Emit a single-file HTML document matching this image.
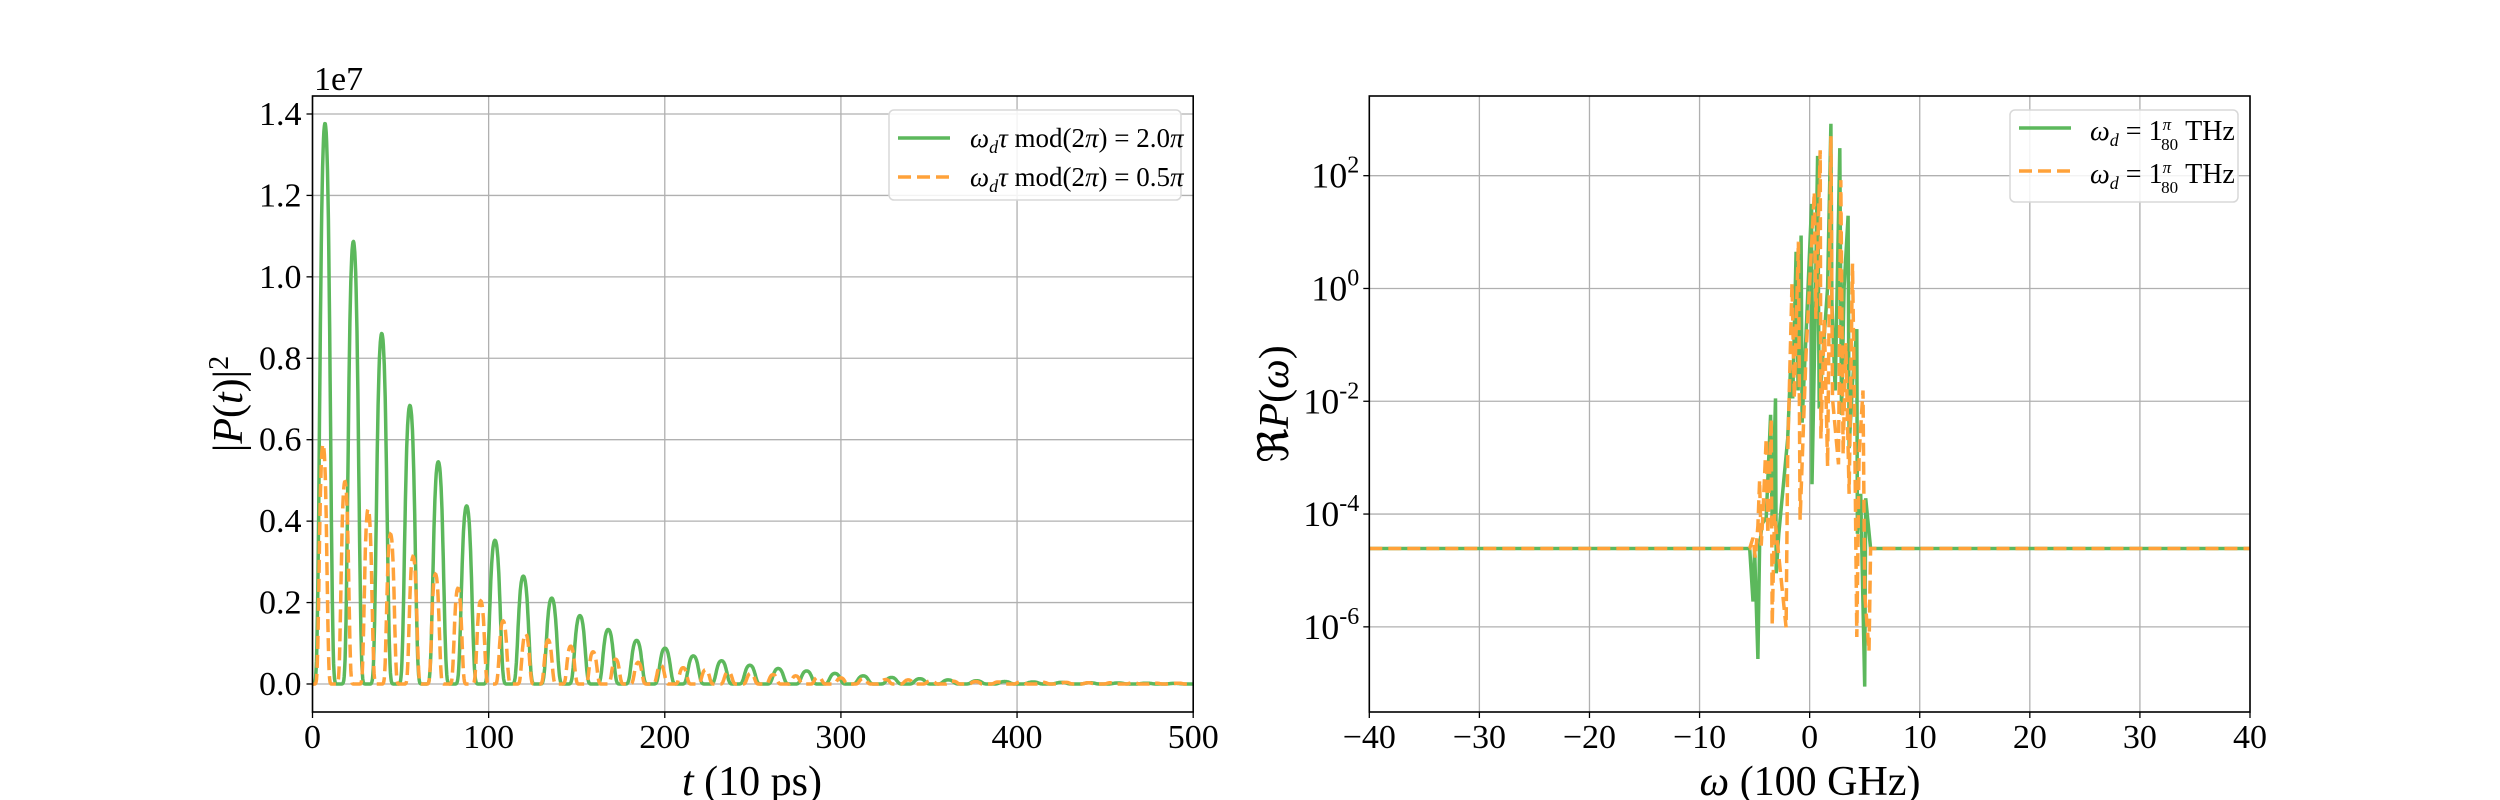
<!DOCTYPE html>
<html><head><meta charset="utf-8"><style>
html,body{margin:0;padding:0;background:#fff;}
svg{display:block;font-family:"Liberation Serif","DejaVu Serif",serif;}
</style></head><body>
<svg id="fig" width="2500" height="800" viewBox="0 0 2500 800" xmlns="http://www.w3.org/2000/svg">
<rect width="2500" height="800" fill="#fff"/>
<g id="left"></g>
<g id="right"></g>
</svg>
<script>
// ---- Left chart data ----
const greenPeakT = [7.1,23.2,39.3,55.3,71.4,87.5,103.6,119.7,135.8,151.8,167.9,184,200.1,216.2,232.2,248.3,264.4,280.5,296.6,312.6,328.7,344.8,360.9,377,393,409.1,425.2,441.3,457.4,473.4,489.5];
const greenPeakH = [1.377,1.087,0.861,0.684,0.546,0.4375,0.353,0.265,0.211,0.168,0.134,0.107,0.088,0.069,0.057,0.046,0.038,0.032,0.026,0.020,0.016,0.013,0.010,0.008,0.006,0.005,0.004,0.003,0.0025,0.002,0.0015];
const orangePeakT = [6.0,18.4,31.6,44.3,57.1,69.8,82.6,95.5,108.2,121,133.8,146.6,159.3,172.1,184.9,197.7,210.4,223.2,236,248.8,261.5,274.3,287.1,299.9,312.6,325.4,338.2,351,363.7,376.5,389.3,402.1,414.8,427.6,440.4,453.2,465.9,478.7,491.5];
const orangePeakH = [0.589,0.497,0.43,0.368,0.313,0.27,0.235,0.204,0.155,0.123,0.108,0.093,0.079,0.061,0.053,0.046,0.040,0.035,0.030,0.026,0.023,0.020,0.017,0.015,0.013,0.011,0.010,0.008,0.007,0.006,0.005,0.005,0.004,0.004,0.003,0.003,0.003,0.002,0.002];
const leftXTicks = [0,100,200,300,400,500];
const leftYTicks = [0,0.2,0.4,0.6,0.8,1.0,1.2,1.4];
// ---- Right chart data (omega, log10 value) ----
const greenOmega = [-40,-5.45,-5.15,-5.0,-4.7,-4.55,-4.31,-3.95,-3.55,-3.4,-3.1,-3.04,-2.8,-1.99,-1.75,-1.54,-1.23,-1.05,-0.78,-0.69,-0.27,0.18,0.21,0.48,0.72,0.87,1.33,1.63,1.93,2.02,2.32,2.74,2.89,3.13,3.49,3.58,3.89,4.28,4.34,4.64,5.0,5.09,5.54,40];
const greenLogP = [-4.61,-4.61,-5.55,-4.63,-6.57,-4.56,-4.17,-4.07,-2.24,-4.21,-1.95,-5.05,-4.35,-2.66,-1.46,-1.95,0.65,-1.81,0.94,-2.38,-0.54,1.5,-3.47,-0.76,2.35,-2.13,-0.83,0.02,2.92,-0.26,-1.81,2.49,-2.24,0.02,1.29,-2.83,-1.67,-0.72,-4.35,-3.64,-7.06,-3.72,-4.61,-4.61];
const orangeOmega = [-40,-5.45,-5.15,-4.94,-4.7,-4.55,-4.4,-4.25,-3.95,-3.8,-3.49,-3.4,-3.19,-2.14,-1.99,-1.6,-1.39,-1.02,-0.87,-0.33,0.42,0.57,0.96,1.02,1.33,1.63,1.93,2.08,2.62,2.83,3.04,3.28,3.58,3.89,4.04,4.28,4.49,4.85,5.0,5.39,5.54,40];
const orangeLogP = [-4.61,-4.61,-4.42,-4.77,-4.21,-3.4,-4.56,-4.0,-2.66,-4.35,-2.31,-5.97,-4.0,-6.01,-2.94,0.09,-1.95,0.83,-4.1,-1.18,1.71,-0.54,2.45,-2.66,-0.54,-3.15,2.7,-1.95,-3.12,1.92,-2.94,-0.97,-3.64,0.44,-1.53,-6.18,-2.94,-1.81,-5.41,-6.43,-4.61,-4.61];
const rightXTicks = [-40,-30,-20,-10,0,10,20,30,40];
const rightYTickExp = [2,0,-2,-4,-6];

const NS="http://www.w3.org/2000/svg";
const GREEN="#5cb85c", ORANGE="#ffa23a";
function mk(tag, parent, attrs){const e=document.createElementNS(NS,tag);for(const k in attrs)e.setAttribute(k,attrs[k]);parent.appendChild(e);return e;}

// ---------- LEFT ----------
const L=document.getElementById('left');
const lx0=312.5,lx1=1193.2,ly0=96,ly1=712;
const lymin=-0.0688,lymax=1.4442;
const lxs=t=>lx0+(t-0)/(500-0)*(lx1-lx0);
const lys=v=>ly1-(v-lymin)/(lymax-lymin)*(ly1-ly0);
for(const t of leftXTicks){
  const gl=mk('line',L,{x1:lxs(t),x2:lxs(t),y1:ly0,y2:ly1,stroke:'#b0b0b0','stroke-width':1.3});
  
  mk('line',L,{x1:lxs(t),x2:lxs(t),y1:ly1,y2:ly1+6,stroke:'#000','stroke-width':1.3});
  const tx=mk('text',L,{x:lxs(t),y:748,'font-size':34,'text-anchor':'middle'});tx.textContent=t;
  
}
for(const v of leftYTicks){
  const gl=mk('line',L,{x1:lx0,x2:lx1,y1:lys(v),y2:lys(v),stroke:'#b0b0b0','stroke-width':1.3});
  
  mk('line',L,{x1:lx0-6,x2:lx0,y1:lys(v),y2:lys(v),stroke:'#000','stroke-width':1.3});
  const tx=mk('text',L,{x:lx0-11,y:lys(v)+11,'font-size':34,'text-anchor':'end'});tx.textContent=v.toFixed(1);
  
}
function pulseSeries(T,H,sig){
  let d='';
  for(let t=0;t<=500;t+=0.25){
    let v=0;for(let i=0;i<T.length;i++){const z=(t-T[i])/sig;if(Math.abs(z)<5)v+=H[i]*Math.exp(-z*z*z*z/2-z*z*0.4);}
    d+=(d?'L':'M')+lxs(t).toFixed(1)+' '+lys(v).toFixed(1);
  }
  return d;
}
const cp=mk('clipPath',L,{id:'lclip'});mk('rect',cp,{x:lx0,y:ly0,width:lx1-lx0,height:ly1-ly0});
const gL=mk('path',L,{d:pulseSeries(greenPeakT,greenPeakH,3.3),fill:'none',stroke:GREEN,'stroke-width':3.5,'clip-path':'url(#lclip)','stroke-linejoin':'round'});

const oL=mk('path',L,{d:pulseSeries(orangePeakT,orangePeakH,2.4),fill:'none',stroke:ORANGE,'stroke-width':3.5,'stroke-dasharray':'13 6','clip-path':'url(#lclip)'});

mk('rect',L,{x:lx0,y:ly0,width:lx1-lx0,height:ly1-ly0,fill:'none',stroke:'#000','stroke-width':1.6});
const off=mk('text',L,{x:314,y:90,'font-size':34});off.textContent='1e7';

const lxl=mk('text',L,{x:752,y:795,'font-size':42,'text-anchor':'middle'});lxl.innerHTML='<tspan font-style="italic">t</tspan> (10 ps)';

const lyl=mk('text',L,{x:0,y:0,'font-size':42,'text-anchor':'middle',transform:'translate(242,404) rotate(-90)'});lyl.innerHTML='|<tspan font-style="italic">P</tspan>(<tspan font-style="italic">t</tspan>)|<tspan dy="-14" font-size="28">2</tspan>';

// legend
const lg=mk('g',L,{});
mk('rect',lg,{x:889,y:110,width:292,height:90,rx:5,fill:'#fff','fill-opacity':0.85,stroke:'#d8d8d8','stroke-width':1.5});
mk('line',lg,{x1:898,x2:950,y1:138,y2:138,stroke:GREEN,'stroke-width':3.5});
mk('line',lg,{x1:898,x2:950,y1:177,y2:177,stroke:ORANGE,'stroke-width':3.5,'stroke-dasharray':'13 6'});
const le1=mk('text',lg,{x:970,y:147,'font-size':27});le1.innerHTML='<tspan font-style="italic">ω<tspan font-size="18" dy="6">d</tspan><tspan dy="-6">τ</tspan></tspan> mod(2<tspan font-style="italic">π</tspan>) = 2.0<tspan font-style="italic">π</tspan>';

const le2=mk('text',lg,{x:970,y:186,'font-size':27});le2.innerHTML='<tspan font-style="italic">ω<tspan font-size="18" dy="6">d</tspan><tspan dy="-6">τ</tspan></tspan> mod(2<tspan font-style="italic">π</tspan>) = 0.5<tspan font-style="italic">π</tspan>';


// ---------- RIGHT ----------
const R=document.getElementById('right');
const rx0=1369.3,rx1=2250,ry0=96,ry1=712;
const rymin=-7.51,rymax=3.413;
const rxs=w=>rx0+(w+40)/80*(rx1-rx0);
const rys=lg10=>ry1-(lg10-rymin)/(rymax-rymin)*(ry1-ry0);
for(const w of rightXTicks){
  const gl=mk('line',R,{x1:rxs(w),x2:rxs(w),y1:ry0,y2:ry1,stroke:'#b0b0b0','stroke-width':1.3});
  
  mk('line',R,{x1:rxs(w),x2:rxs(w),y1:ry1,y2:ry1+6,stroke:'#000','stroke-width':1.3});
  const tx=mk('text',R,{x:rxs(w),y:748,'font-size':34,'text-anchor':'middle'});tx.textContent=(w<0?'−':'')+Math.abs(w);
  
}
for(const e of rightYTickExp){
  const gl=mk('line',R,{x1:rx0,x2:rx1,y1:rys(e),y2:rys(e),stroke:'#b0b0b0','stroke-width':1.3});
  
  mk('line',R,{x1:rx0-6,x2:rx0,y1:rys(e),y2:rys(e),stroke:'#000','stroke-width':1.3});
  const tx=mk('text',R,{x:rx0-10,y:rys(e)+12,'font-size':36,'text-anchor':'end'});tx.innerHTML='10<tspan dy="-15" font-size="24">'+(e<0?'-':'')+Math.abs(e)+'</tspan>';
  
}
const cp2=mk('clipPath',R,{id:'rclip'});mk('rect',cp2,{x:rx0,y:ry0,width:rx1-rx0,height:ry1-ry0});
function linePath(X,Y){let d='';for(let i=0;i<X.length;i++)d+=(i?'L':'M')+rxs(X[i]).toFixed(1)+' '+rys(Y[i]).toFixed(1);return d;}
const gR=mk('path',R,{d:linePath(greenOmega,greenLogP),fill:'none',stroke:GREEN,'stroke-width':3.5,'clip-path':'url(#rclip)'});

const oR=mk('path',R,{d:linePath(orangeOmega,orangeLogP),fill:'none',stroke:ORANGE,'stroke-width':3.5,'stroke-dasharray':'13 6','clip-path':'url(#rclip)'});

mk('rect',R,{x:rx0,y:ry0,width:rx1-rx0,height:ry1-ry0,fill:'none',stroke:'#000','stroke-width':1.6});
const rxl=mk('text',R,{x:1810,y:795,'font-size':42,'text-anchor':'middle'});rxl.innerHTML='<tspan font-style="italic">ω</tspan> (100 GHz)';

const ryl=mk('text',R,{x:0,y:0,'font-size':42,'text-anchor':'middle',transform:'translate(1288,404) rotate(-90)'});ryl.innerHTML='ℜ<tspan font-style="italic">P</tspan>(<tspan font-style="italic">ω</tspan>)';

const rg=mk('g',R,{});
mk('rect',rg,{x:2010,y:110,width:228,height:92,rx:5,fill:'#fff','fill-opacity':0.85,stroke:'#d8d8d8','stroke-width':1.5});
mk('line',rg,{x1:2019,x2:2071,y1:128,y2:128,stroke:GREEN,'stroke-width':3.5});
mk('line',rg,{x1:2019,x2:2071,y1:171,y2:171,stroke:ORANGE,'stroke-width':3.5,'stroke-dasharray':'13 6'});
for(const [yy,nm] of [[140,'legend-entry-green'],[183,'legend-entry-orange']]){
  const t=mk('text',rg,{x:2090,y:yy,'font-size':28});
  t.innerHTML='<tspan font-style="italic">ω<tspan font-size="18" dy="6">d</tspan></tspan><tspan dy="-6"> = 1</tspan><tspan font-size="17" dy="-10" font-style="italic">π</tspan><tspan font-size="17" dx="-10" dy="20">80</tspan><tspan dy="-10"> THz</tspan>';
  
}
</script>
</body></html>
